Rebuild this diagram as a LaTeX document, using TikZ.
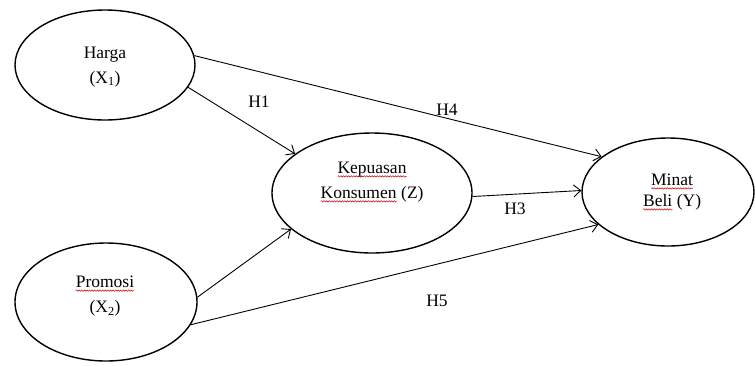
\documentclass[tikz,border=0pt]{standalone}
\usepackage{fontspec}
\setmainfont{Liberation Serif}
\usetikzlibrary{arrows.meta,decorations.pathmorphing,shapes.geometric}
\newcommand\sqw[1]{\tikz[baseline=(w.base),x=1pt,y=1pt]{\node[inner sep=0pt,outer sep=0pt](w){#1};\draw[red!80!black,line width=0.5pt,decorate,decoration={snake,amplitude=0.7pt,segment length=2.6pt}] ([yshift=-3.2pt]w.base west) -- ([yshift=-3.2pt]w.base east);}}
\tikzset{
  var/.style={draw, ellipse, line width=1.4pt, inner sep=0pt},
  txt/.style={align=center, font=\fontsize{17.5}{25}\selectfont, inner sep=0pt},
  lbl/.style={font=\fontsize{17.5}{21}\selectfont, inner sep=0pt},
  path/.style={line width=0.9pt, -{Straight Barb[length=7pt,width=12pt,line width=0.9pt]}}
}
\begin{document}
\begin{tikzpicture}[x=1pt,y=-1pt]
\useasboundingbox (0,0) rectangle (755,365);
\node[var, minimum width=180pt, minimum height=110pt] (h) at (105,65) {};
\node[var, minimum width=182pt, minimum height=118pt] (p) at (106,302) {};
\node[var, minimum width=200pt, minimum height=120pt] (k) at (372,193) {};
\node[var, minimum width=172pt, minimum height=108pt] (m) at (668,192) {};
\node[txt] (ht) at (105,67) {Harga\\(X\textsubscript{1})};
\node[txt] (pt) at (105,296) {\sqw{Promosi}\\(X\textsubscript{2})};
\node[txt] (kt) at (372,182) {\sqw{Kepuasan}\\\sqw{Konsumen} (Z)};
\node[txt, font=\fontsize{17.5}{21}\selectfont] (mt) at (672,192) {\sqw{Minat}\\\sqw{Beli} (Y)};
\draw[path] (h.-15) -- (k.153);
\draw[path] (h.6) -- (m.152);
\draw[path] (k.-2) -- (m.179);
\draw[path] (p.3) -- (k.204);
\draw[path] (p.-15) -- (m.205);
\node[lbl] (h1) at (259,102) {H1};
\node[lbl] (h4) at (447,110) {H4};
\node[lbl] (h3) at (515,209) {H3};
\node[lbl] (h5) at (437,301) {H5};
\end{tikzpicture}
\end{document}
